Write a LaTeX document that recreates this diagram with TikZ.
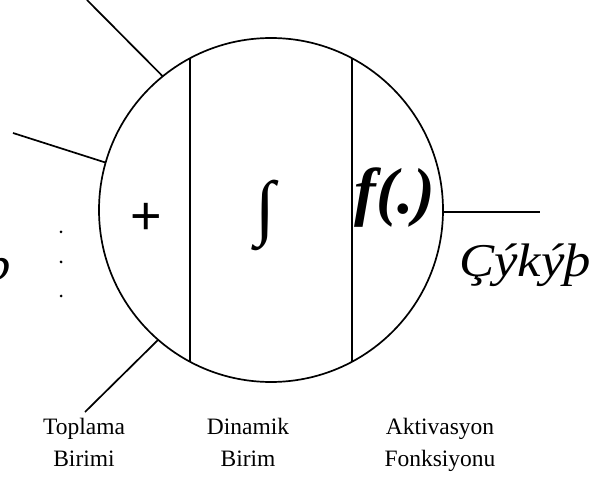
\documentclass[tikz,border=0pt]{standalone}
\usepackage{fontspec}
\usepackage{graphicx}
\setmainfont{Liberation Serif}
\newfontfamily\plusfont{Liberation Sans}
\usetikzlibrary{calc}
\begin{document}
\begin{tikzpicture}[x=1pt,y=-1pt,
  wire/.style={line width=1.7pt},
  lbl/.style={font=\fontsize{23.5}{32}\selectfont, align=center, anchor=base, inner sep=0pt},
  dotmark/.style={circle, fill=black, inner sep=0pt, minimum size=3pt},
  bigit/.style={inner sep=0pt, font=\fontsize{47}{47}\selectfont\itshape}]
\useasboundingbox (0,0) rectangle (605,478);
\clip (0,0) rectangle (605,478);
% neuron body
\node[draw, wire, circle, minimum size=344pt, inner sep=0pt, outer sep=0pt] (neuron) at (271,210) {};
% internal dividers
\coordinate (d1t) at ($(neuron.center)+(-81,-152)$);
\coordinate (d1b) at ($(neuron.center)+(-81,152)$);
\coordinate (d2t) at ($(neuron.center)+(81,-152)$);
\coordinate (d2b) at ($(neuron.center)+(81,152)$);
\draw[wire] (d1t) -- (d1b);
\draw[wire] (d2t) -- (d2b);
% inputs
\coordinate (in1) at (87,0);
\coordinate (in2) at (13,133);
\coordinate (in3) at (85,412);
\draw[wire] (in1) -- (neuron.129);
\draw[wire] (in2) -- (neuron.164.2);
\draw[wire] (in3) -- (neuron.229.3);
% output
\coordinate (out) at (540,212);
\draw[wire] (out -| neuron.east) -- (out);
% dots
\node[dotmark] (p1) at (61,232) {};
\node[dotmark] (p2) at (61,262) {};
\node[dotmark] (p3) at (61,296) {};
% symbols
\node[inner sep=0pt, font=\fontsize{54}{54}\selectfont\plusfont] (plus) at (146.5,219) {+};
\node[inner sep=0pt, font=\fontsize{72}{72}\selectfont] (integ) at (265,215) {∫};
\node[inner sep=0pt, font=\fontsize{65}{65}\selectfont\bfseries\itshape] (func) at (395,198) {f(.)};
% input / output labels
\node[bigit, anchor=base east] (giris) at (11,281) {\scalebox{1.12}[1]{Giriþ}};
\node[bigit, anchor=base west] (cikis) at (459,277) {\scalebox{1.12}[1]{Çýkýþ}};
% unit labels
\node[lbl] (toplama) at (84,466) {Toplama\\Birimi};
\node[lbl] (dinamik) at (248,466) {Dinamik\\Birim};
\node[lbl] (aktiv) at (440,466) {Aktivasyon\\Fonksiyonu};
\end{tikzpicture}
\end{document}
